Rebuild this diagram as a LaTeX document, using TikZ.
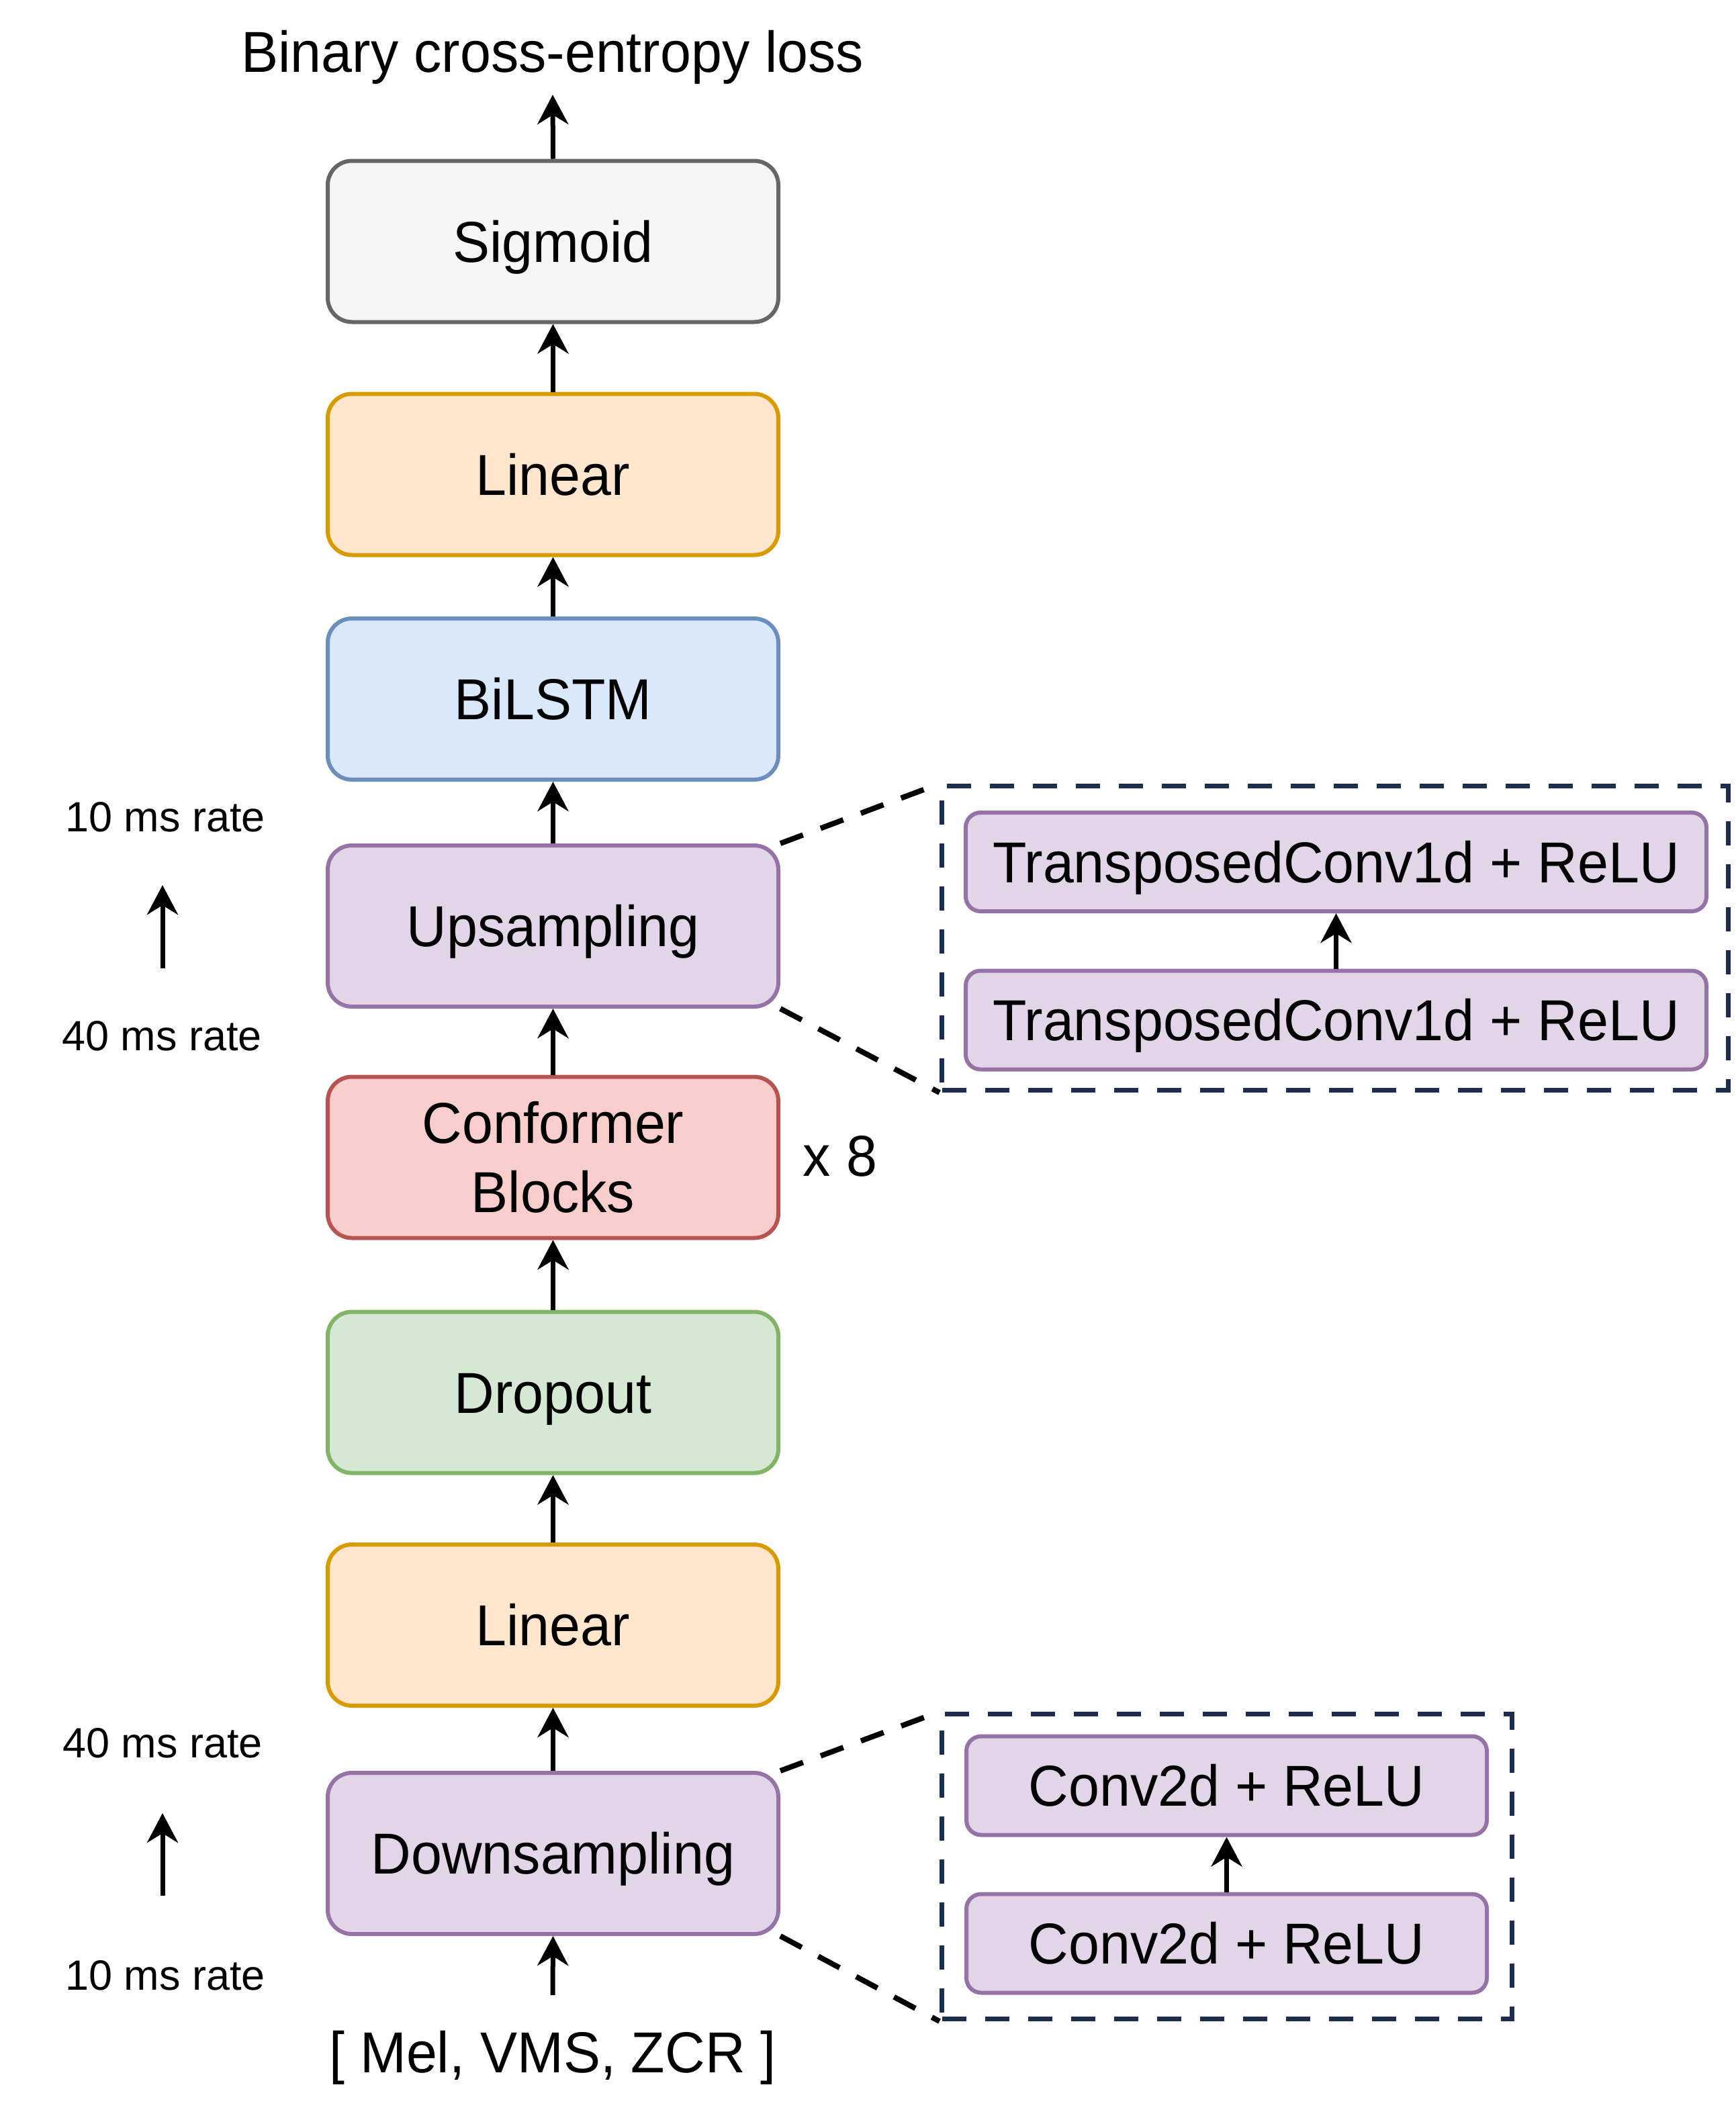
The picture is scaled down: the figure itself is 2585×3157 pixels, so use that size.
\documentclass[tikz,border=0pt]{standalone}
\usepackage{fontspec}
\setmainfont{Liberation Sans}
\newfontfamily\bigfam[FakeStretch=0.96]{Liberation Sans}
\usetikzlibrary{arrows.meta}
\definecolor{sigF}{HTML}{F5F5F5}\definecolor{sigD}{HTML}{666666}
\definecolor{linF}{HTML}{FFE6CC}\definecolor{linD}{HTML}{D79B00}
\definecolor{lstF}{HTML}{DAE8FC}\definecolor{lstD}{HTML}{6C8EBF}
\definecolor{purF}{HTML}{E1D5E7}\definecolor{purD}{HTML}{9673A6}
\definecolor{conF}{HTML}{F8CECC}\definecolor{conD}{HTML}{B85450}
\definecolor{droF}{HTML}{D5E8D4}\definecolor{droD}{HTML}{82B366}
\definecolor{navy}{HTML}{1C2D4F}
\begin{document}
\begin{tikzpicture}[x=1pt,y=-1pt,
  bigtext/.style={font=\bigfam\fontsize{86}{103}\selectfont},
  smalltext/.style={font=\fontsize{63}{76}\selectfont, text height=45pt, text depth=0pt, inner sep=0pt},
  capc/.style={text height=61.6pt, text depth=0pt},
  blk/.style={draw, line width=6pt, rounded corners=36pt, minimum width=671pt, minimum height=240pt, inner sep=0pt, bigtext},
  subblk/.style={draw=purD, fill=purF, line width=6pt, rounded corners=22pt, minimum height=147pt, inner sep=0pt, bigtext, capc},
  grp/.style={draw=navy, line width=7pt, dash pattern=on 36pt off 28pt, inner sep=0pt},
  arr/.style={line width=7pt, -{Stealth[length=44pt,width=46pt,inset=14pt]}},
  zoomln/.style={line width=8pt, dash pattern=on 36pt off 28pt}
]
\useasboundingbox (0,0) rectangle (2585,3157);

% main column
\node[blk, capc, draw=sigD, fill=sigF] (sig) at (823.5,359.5) {Sigmoid};
\node[blk, capc, draw=linD, fill=linF] (lin2) at (823.5,706.5) {Linear};
\node[blk, capc, draw=lstD, fill=lstF] (lstm) at (823.5,1041) {BiLSTM};
\node[blk, capc, draw=purD, fill=purF] (up) at (823.5,1379) {Upsampling};
\node[blk, draw=conD, fill=conF, align=center] (conf) at (823.5,1723.5) {Conformer\\Blocks};
\node[blk, capc, draw=droD, fill=droF] (drop) at (823.5,2073.5) {Dropout};
\node[blk, capc, draw=linD, fill=linF] (lin1) at (823.5,2420) {Linear};
\node[blk, capc, draw=purD, fill=purF] (down) at (823.5,2760) {Downsampling};

% texts
\node[bigtext, anchor=base] (title) at (823,107) {Binary cross-entropy loss};
\node[bigtext, anchor=base] (inp) at (823,3086) {[ Mel, VMS, ZCR ]};
\node[bigtext, capc, inner sep=0pt] (x8) at (1251,1721) {x 8};
\coordinate (titlein) at (823,141);
\coordinate (inpout) at (823,2971);

% rate labels
\node[smalltext] (r10a) at (246,1216) {10 ms rate};
\node[smalltext] (r40a) at (241,1542) {40 ms rate};
\node[smalltext] (r40b) at (242,2595) {40 ms rate};
\node[smalltext] (r10b) at (246,2941) {10 ms rate};
\coordinate (ra1) at (242,1442);
\coordinate (ra2) at (242,1318);
\coordinate (rb1) at (242,2823);
\coordinate (rb2) at (242,2700);

% main arrows
\draw[arr] (inpout) -- (down.south);
\draw[arr] (down.north) -- (lin1.south);
\draw[arr] (lin1.north) -- (drop.south);
\draw[arr] (drop.north) -- (conf.south);
\draw[arr] (conf.north) -- (up.south);
\draw[arr] (up.north) -- (lstm.south);
\draw[arr] (lstm.north) -- (lin2.south);
\draw[arr] (lin2.north) -- (sig.south);
\draw[arr] (sig.north) -- (titlein);
\draw[arr] (ra1) -- (ra2);
\draw[arr] (rb1) -- (rb2);

% upsampling detail
\node[grp, minimum width=1171pt, minimum height=453pt] (g1) at (1988,1397) {};
\node[subblk, minimum width=1103pt] (tc2) at (1989.5,1283.5) {TransposedConv1d + ReLU};
\node[subblk, minimum width=1103pt] (tc1) at (1989.5,1519) {TransposedConv1d + ReLU};
\draw[arr] (tc1.north) -- (tc2.south);
\draw[zoomln] (up.north east) -- (g1.north west);
\draw[zoomln] (up.south east) -- (g1.south west);

% downsampling detail
\node[grp, minimum width=849pt, minimum height=454pt] (g2) at (1827,2779.5) {};
\node[subblk, minimum width=775pt] (cv2) at (1826.5,2659) {Conv2d + ReLU};
\node[subblk, minimum width=775pt] (cv1) at (1826.5,2894) {Conv2d + ReLU};
\draw[arr] (cv1.north) -- (cv2.south);
\draw[zoomln] (down.north east) -- (g2.north west);
\draw[zoomln] (down.south east) -- (g2.south west);
\end{tikzpicture}
\end{document}
